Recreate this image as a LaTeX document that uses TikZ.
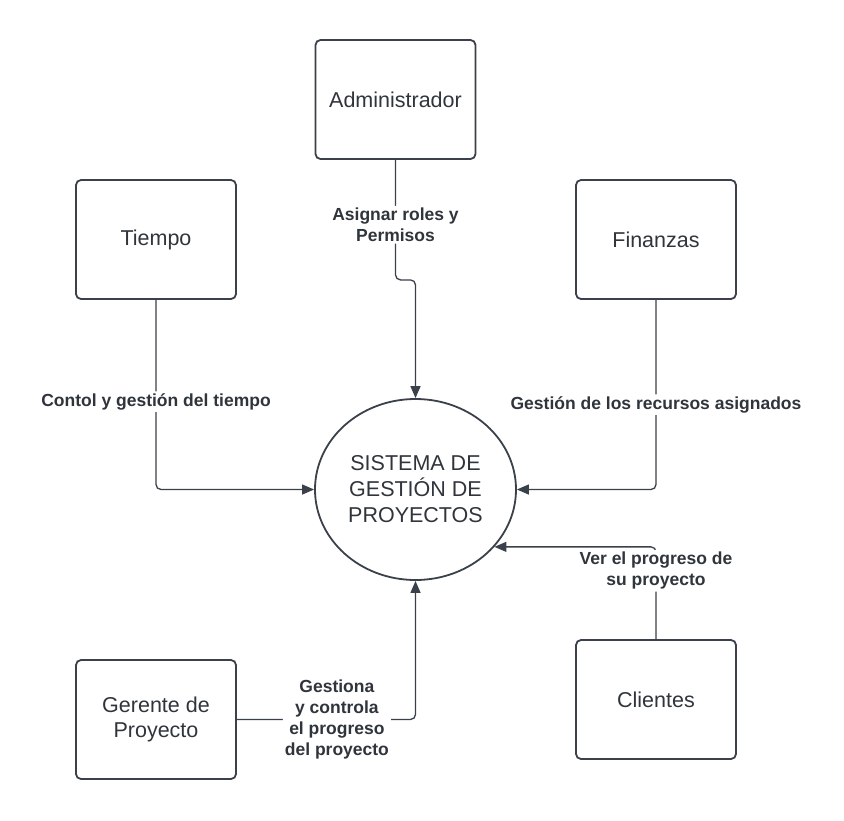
\documentclass[tikz,border=0pt]{standalone}
\usepackage{fontspec}
\setmainfont{Liberation Sans}
\usetikzlibrary{arrows.meta,shapes.geometric}
\definecolor{ln}{HTML}{3A414A}
\definecolor{tx}{HTML}{30353C}
\begin{document}
\begin{tikzpicture}[x=1pt,y=-1pt,
  box/.style={draw=ln, line width=1.8pt, rounded corners=5pt, minimum width=160pt, minimum height=119pt,
    inner sep=0pt, align=center, font=\fontsize{21.5}{25.5}\selectfont, text=tx},
  sysnode/.style={ellipse, draw=ln, line width=1.8pt, minimum width=201pt, minimum height=181pt,
    inner sep=0pt, align=center, font=\fontsize{21.5}{26}\selectfont, text=tx},
  conn/.style={draw=ln, line width=1.3pt, rounded corners=5pt, -{Triangle[length=12pt,width=10pt]}},
  lbl/.style={fill=white, text=tx, font=\bfseries\fontsize{17.5}{21}\selectfont, align=center, inner sep=2pt}]
\useasboundingbox (0,0) rectangle (844,820);
\node[box] (adm) at (395.5,99.5) {Administrador};
\node[box] (tie) at (156,239.5) {Tiempo};
\node[box] (fin) at (656,239.5) {Finanzas};
\node[box] (ger) at (156,719.5) {Gerente de\\Proyecto};
\node[box] (cli) at (656,699.5) {Clientes};
\node[sysnode] (sys) at (415.5,489.5) {SISTEMA DE\\GESTIÓN DE\\PROYECTOS};
\draw[conn] (adm.south) -- node[lbl,pos=0.54]{Asignar roles y\\Permisos} ++(0,120) -| (sys.north);
\draw[conn] (tie.south) |- node[lbl,pos=0.268]{Contol y gestión del tiempo} (sys.west);
\draw[conn] (fin.south) |- node[lbl,pos=0.276]{Gestión de los recursos asignados} (sys.east);
\draw[conn] (cli.north) |- node[lbl,pos=0.37]{Ver el progreso de\\su proyecto} (sys.-36.7);
\draw[conn] (ger.east) -| node[lbl,pos=0.28]{Gestiona\\y controla\\el progreso\\del proyecto} (sys.south);
\end{tikzpicture}
\end{document}
